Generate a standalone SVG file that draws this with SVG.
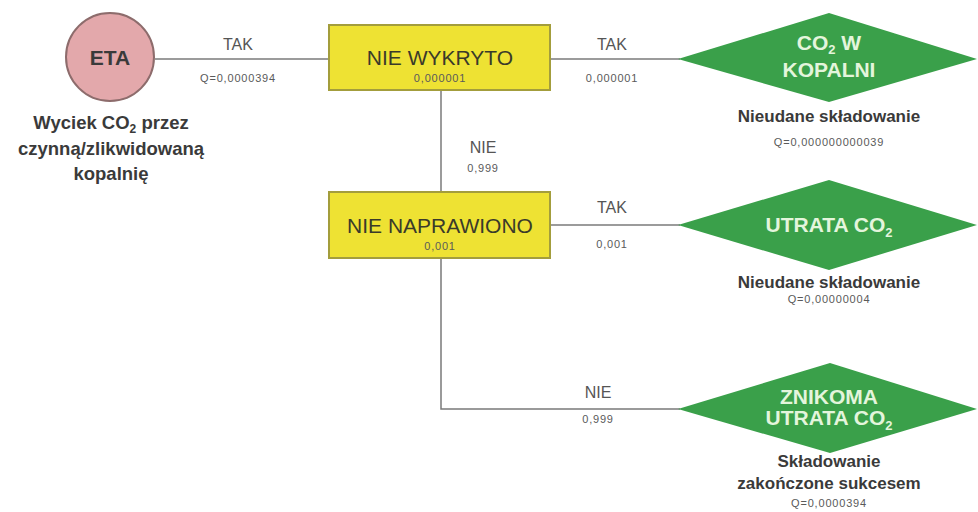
<svg xmlns="http://www.w3.org/2000/svg" width="978" height="512" viewBox="0 0 978 512">
<style>
text{font-family:"Liberation Sans",Arial,sans-serif;text-anchor:middle;fill:#444}
.lbl{font-size:16px;fill:#555}
.num{font-size:11px;letter-spacing:0.8px;fill:#5a5a5a}
.box{fill:#eee233;stroke:#a39d3c;stroke-width:2}
.boxt{font-size:21px;fill:#3a3a2a}
.dia{fill:#3aa04a}
.diat{font-size:21px;font-weight:bold;fill:#e4f5dc}
.cap{font-size:17px;font-weight:bold;fill:#3a3a3a}
.big{font-size:18.5px}
.conn{stroke:#7a7a7a;stroke-width:1.5;fill:none}
</style>
<rect width="978" height="512" fill="#fff"/>
<g id="connectors">
<line class="conn" x1="155" y1="59" x2="329" y2="59"/>
<line class="conn" x1="550" y1="59" x2="680" y2="59"/>
<line class="conn" x1="441" y1="90" x2="441" y2="192"/>
<line class="conn" x1="550" y1="225" x2="680" y2="225"/>
<polyline class="conn" points="441,258 441,409 680,409"/>
<text class="lbl" x="238" y="50">TAK</text>
<text class="num" x="238" y="82">Q=0,0000394</text>
<text class="lbl" x="612" y="50">TAK</text>
<text class="num" x="612" y="82">0,000001</text>
<text class="lbl" x="483" y="153">NIE</text>
<text class="num" x="483" y="172">0,999</text>
<text class="lbl" x="612" y="213">TAK</text>
<text class="num" x="612" y="248">0,001</text>
<text class="lbl" x="598" y="398">NIE</text>
<text class="num" x="598" y="423">0,999</text>
</g>
<g id="eta">
<circle cx="110" cy="57" r="44" fill="#e3a8ab" stroke="#8d6c6c" stroke-width="2"/>
<text x="110" y="65" font-size="21" font-weight="bold" style="fill:#3a3a3a">ETA</text>
<text class="cap big" x="111" y="129">Wyciek CO<tspan font-size="12" dy="4">2</tspan><tspan dy="-4"> przez</tspan></text>
<text class="cap big" x="111" y="155">czynną/zlikwidowaną</text>
<text class="cap big" x="111" y="180">kopalnię</text>
</g>
<g id="nie-wykryto">
<rect class="box" x="329" y="25" width="221" height="65"/>
<text class="boxt" x="440" y="65">NIE WYKRYTO</text>
<text class="num" x="440" y="82">0,000001</text>
</g>
<g id="nie-naprawiono">
<rect class="box" x="329" y="192" width="221" height="66"/>
<text class="boxt" x="440" y="233">NIE NAPRAWIONO</text>
<text class="num" x="440" y="250">0,001</text>
</g>
<g id="co2-w-kopalni">
<polygon class="dia" points="678,59 829,13 977,59 829,102"/>
<text class="diat" x="829" y="50">CO<tspan font-size="13" dy="4">2</tspan><tspan dy="-4"> W</tspan></text>
<text class="diat" x="829" y="77">KOPALNI</text>
<text class="cap" x="829" y="122">Nieudane składowanie</text>
<text class="num" x="829" y="146">Q=0,000000000039</text>
</g>
<g id="utrata-co2">
<polygon class="dia" points="678,225 829,180 977,225 829,270"/>
<text class="diat" x="829" y="232">UTRATA CO<tspan font-size="13" dy="5">2</tspan></text>
<text class="cap" x="829" y="288">Nieudane składowanie</text>
<text class="num" x="829" y="303">Q=0,00000004</text>
</g>
<g id="znikoma-utrata-co2">
<polygon class="dia" points="678,409 830,363 977,409 830,453"/>
<text class="diat" x="829" y="404">ZNIKOMA</text>
<text class="diat" x="829" y="425">UTRATA CO<tspan font-size="13" dy="5">2</tspan></text>
<text class="cap" x="829" y="467">Składowanie</text>
<text class="cap" x="829" y="489">zakończone sukcesem</text>
<text class="num" x="829" y="507">Q=0,0000394</text>
</g>
</svg>
